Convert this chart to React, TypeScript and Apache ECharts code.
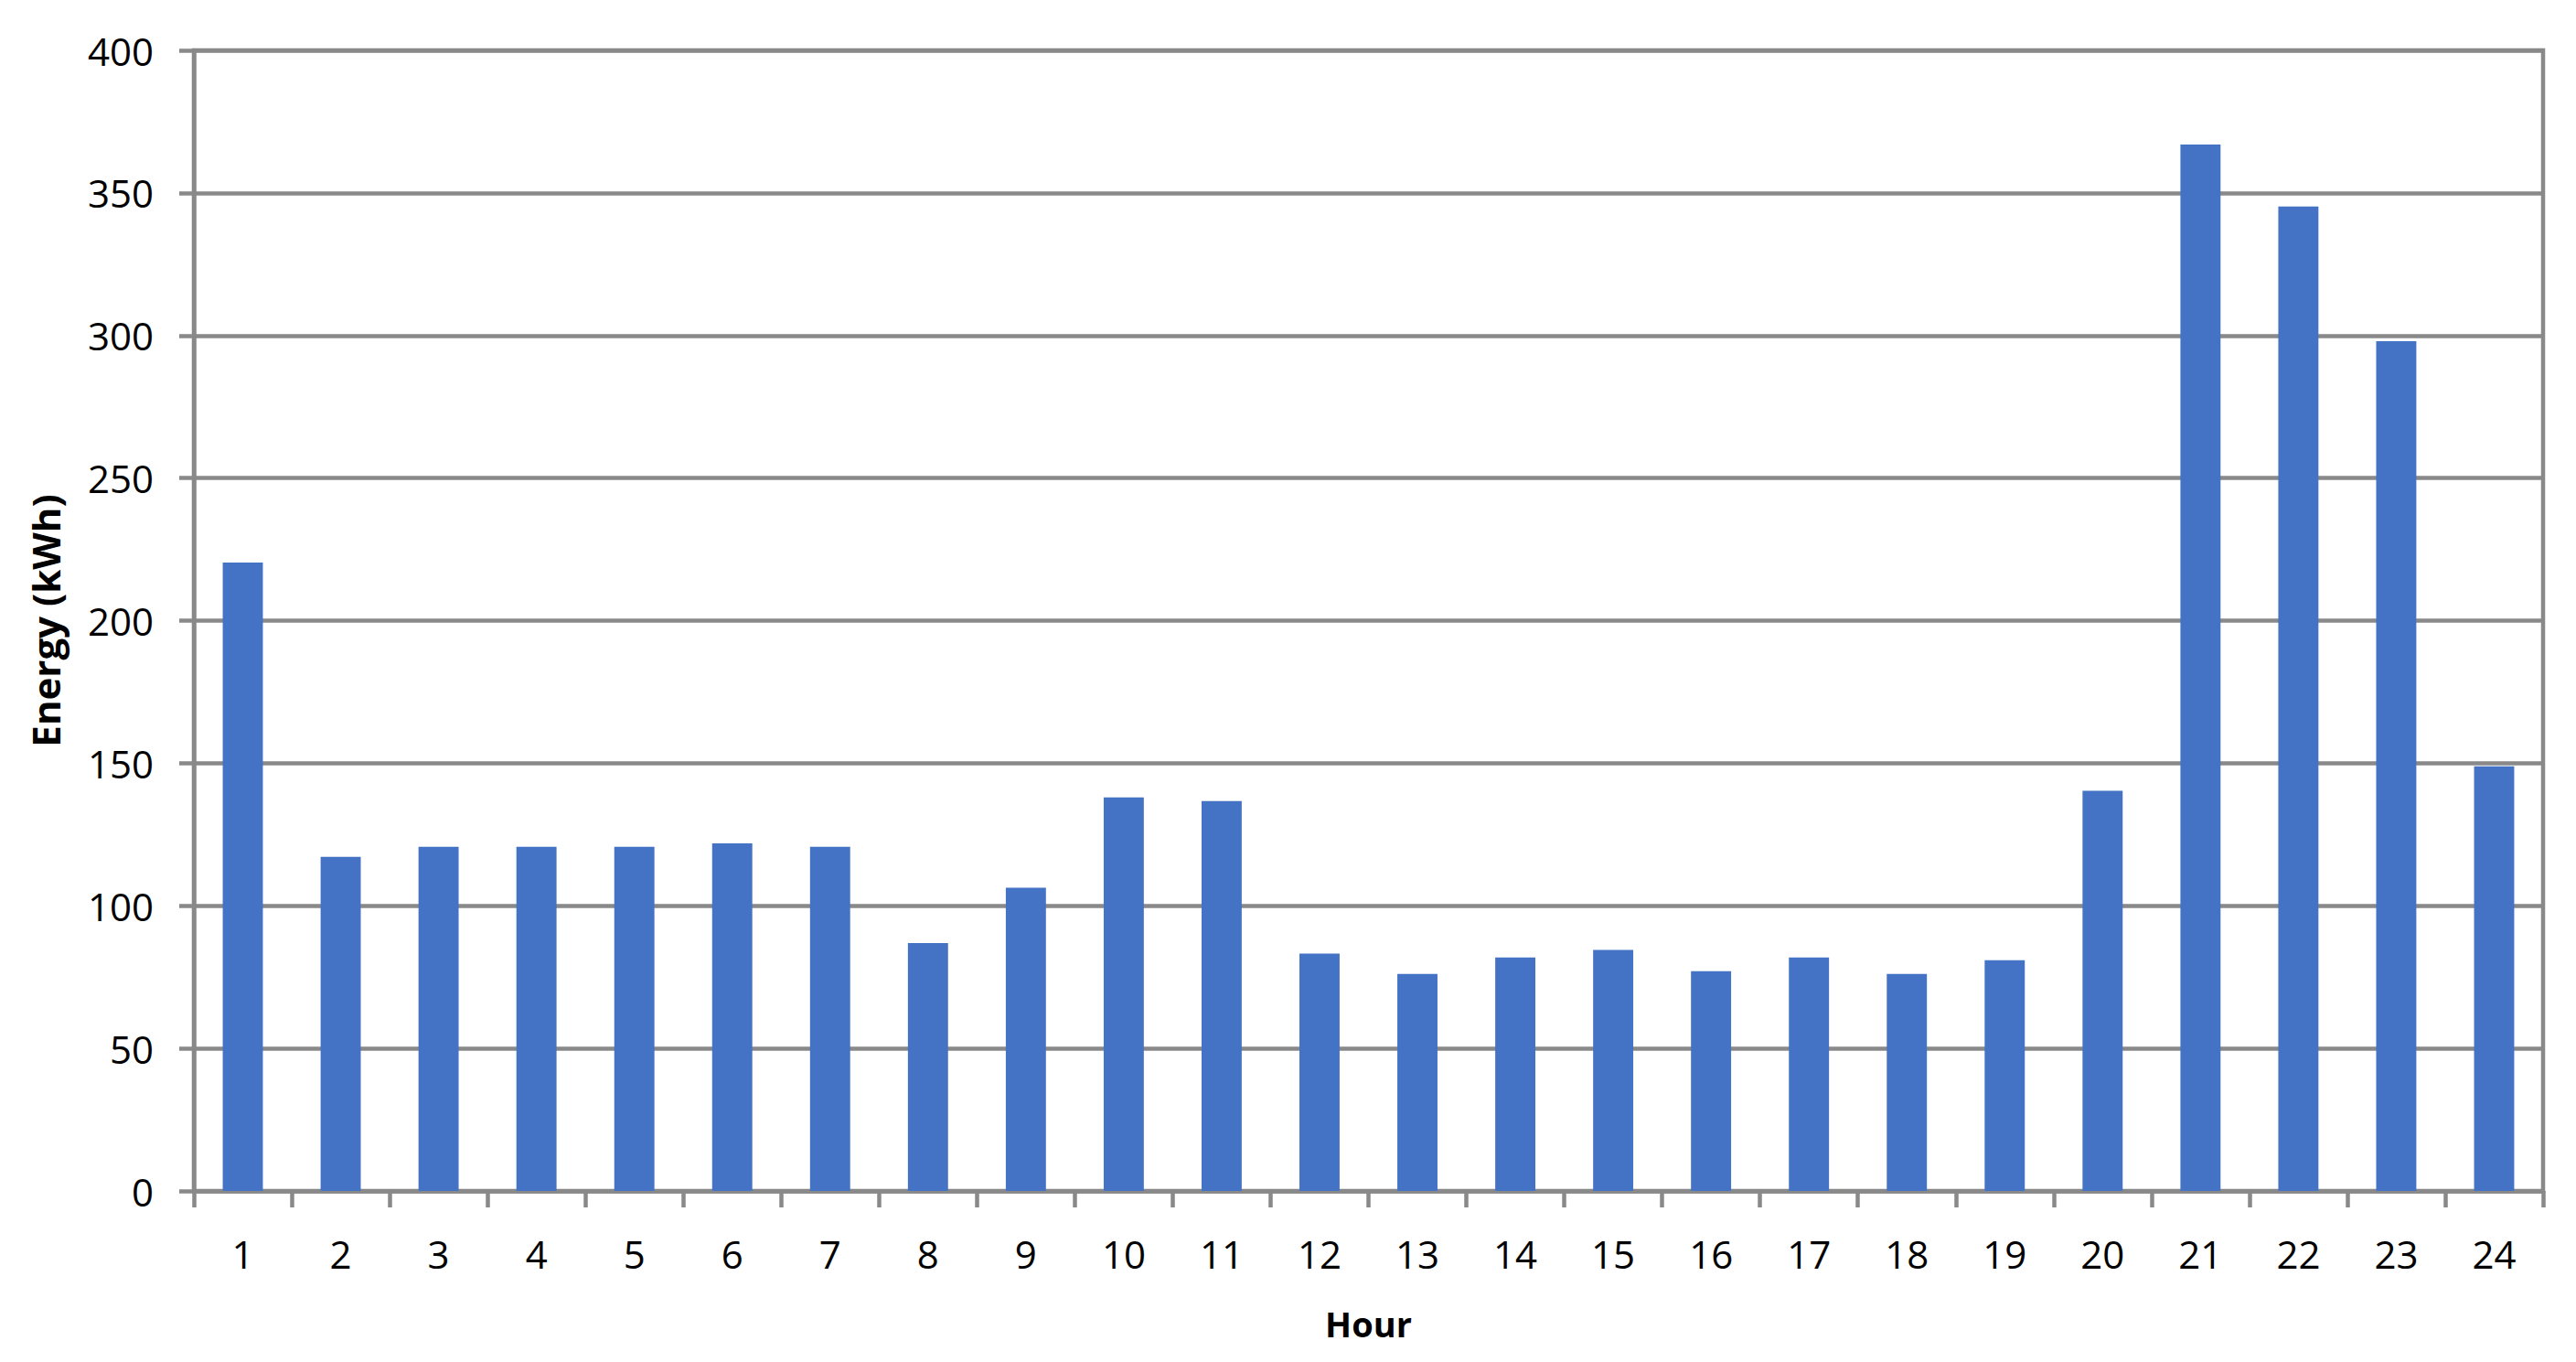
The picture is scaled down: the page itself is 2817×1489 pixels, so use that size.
import React, { useEffect, useRef } from "react";
import * as echarts from "echarts";

const hours: string[] = [
  "1", "2", "3", "4", "5", "6", "7", "8", "9", "10", "11", "12",
  "13", "14", "15", "16", "17", "18", "19", "20", "21", "22", "23", "24",
];
const energyKWh: number[] = [
  220.4, 117.2, 120.7, 120.7, 120.7, 121.9, 120.7, 86.9, 106.3, 138.0, 136.7, 83.2,
  76.1, 81.9, 84.5, 77.1, 81.9, 76.1, 80.9, 140.3, 367.0, 345.2, 298.0, 148.9,
];
const yAxisTitle = "Energy (kWh)";
const xAxisTitle = "Hour";

const GRID_COLOR = "#898989";
const FONT = "'Open Sans', 'Noto Sans', sans-serif";

export default function App() {
  const ref = useRef<HTMLDivElement>(null);
  useEffect(() => {
    if (!ref.current) return;
    const chart = echarts.init(ref.current, undefined, { renderer: "svg" });
    chart.setOption({
      animation: false,
      backgroundColor: "#ffffff",
      grid: {
        left: 212,
        right: 36,
        top: 55,
        bottom: 187,
        show: true,
        borderColor: GRID_COLOR,
        borderWidth: 4.5,
        backgroundColor: "transparent",
      },
      xAxis: {
        type: "category",
        data: hours,
        boundaryGap: true,
        name: xAxisTitle,
        nameLocation: "middle",
        nameGap: 126,
        nameTextStyle: { fontFamily: FONT, fontSize: 38, fontWeight: "bold", color: "#000" },
        axisLine: { show: true, lineStyle: { color: GRID_COLOR, width: 4.5 } },
        axisTick: { show: true, alignWithLabel: false, interval: 0, length: 18, lineStyle: { color: GRID_COLOR, width: 4.5 } },
        axisLabel: { interval: 0, margin: 47, fontFamily: FONT, fontSize: 42, color: "#000" },
        splitLine: { show: false },
      },
      yAxis: {
        type: "value",
        min: 0,
        max: 400,
        interval: 50,
        name: yAxisTitle,
        nameLocation: "middle",
        nameRotate: 90,
        nameGap: 142,
        nameTextStyle: { fontFamily: FONT, fontSize: 42, fontWeight: "bold", color: "#000" },
        axisLine: { show: true, lineStyle: { color: GRID_COLOR, width: 4.5 } },
        axisTick: { show: true, length: 16, lineStyle: { color: GRID_COLOR, width: 4.5 } },
        axisLabel: { margin: 44, fontFamily: FONT, fontSize: 42, color: "#000" },
        splitLine: { show: true, lineStyle: { color: GRID_COLOR, width: 4.5 } },
      },
      series: [
        {
          type: "bar",
          data: energyKWh,
          barWidth: "41%",
          itemStyle: { color: "#4472C4" },
        },
      ],
    });
    return () => chart.dispose();
  }, []);
  return (
    <div
      ref={ref}
      style={{ position: "fixed", left: 0, top: 0, width: 2817, height: 1489 }}
    />
  );
}
